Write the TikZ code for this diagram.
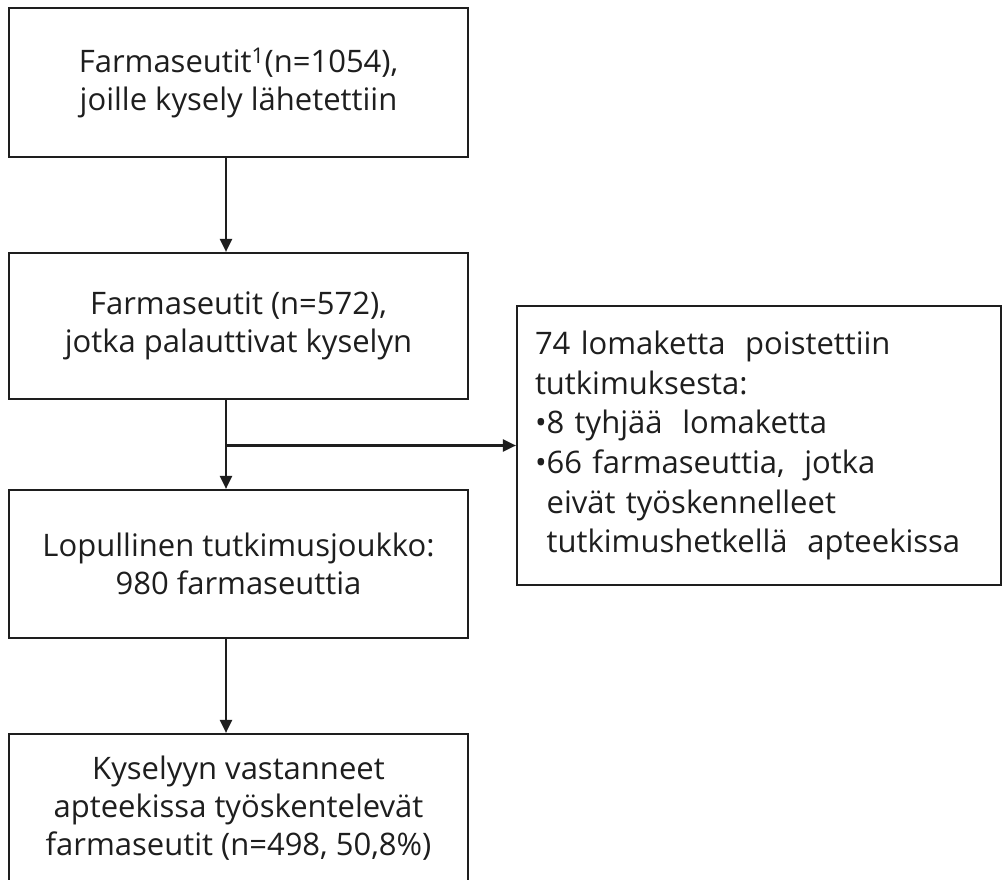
\documentclass[tikz,border=0pt]{standalone}
\usepackage{fontspec}
\setmainfont{Open Sans}
\usetikzlibrary{arrows.meta}
\definecolor{ink}{HTML}{1E1E1E}
\begin{document}
\begin{tikzpicture}[x=1pt,y=-1pt,
  box/.style={draw=ink, line width=2.2pt, text=ink, align=center,
    font=\fontsize{31}{38}\selectfont, inner sep=0pt},
  arr/.style={draw=ink, line width=2.2pt, -{Triangle[width=12pt,length=13pt]}}]
\fill[white] (0,0) rectangle (1002,880);
\useasboundingbox (0,0) rectangle (1002,880);
\node[box, minimum width=459, minimum height=149] (b1) at (238.5,82.5)
  {Farmaseutit\textsuperscript{1}(n=1054),\\joille kysely lähetettiin};
\node[box, minimum width=459, minimum height=146] (b2) at (238.5,326)
  {Farmaseutit (n=572),\\jotka palauttivat kyselyn};
\node[box, minimum width=459, minimum height=148] (b3) at (238.5,564)
  {Lopullinen tutkimusjoukko:\\980 farmaseuttia};
\node[box, minimum width=459, minimum height=148] (b4) at (238.5,808)
  {Kyselyyn vastanneet\\apteekissa työskentelevät\\farmaseutit (n=498, 50,8\%)};
\node[box, align=left, minimum width=484, minimum height=279, text width=448,
  inner xsep=18pt, font=\fontsize{31}{39.7}\selectfont] (rb) at (759,445.5)
  {74 lomaketta\hspace{0.3em} poistettiin\\
   tutkimuksesta:\\
   •8 tyhjää\hspace{0.3em} lomaketta\\
   •66 farmaseuttia,\hspace{0.3em} jotka\\
   \phantom{•}eivät työskennelleet\\
   \phantom{•}tutkimushetkellä\hspace{0.3em} apteekissa};
\coordinate (ax) at (226,0);
\coordinate (br) at (ax |- rb.west);
\draw[arr] (b1.south -| ax) -- (b2.north -| ax);
\draw[arr] (b2.south -| ax) -- (b3.north -| ax);
\draw[arr] (br) -- (rb.west);
\draw[arr] (b3.south -| ax) -- (b4.north -| ax);
\end{tikzpicture}
\end{document}
